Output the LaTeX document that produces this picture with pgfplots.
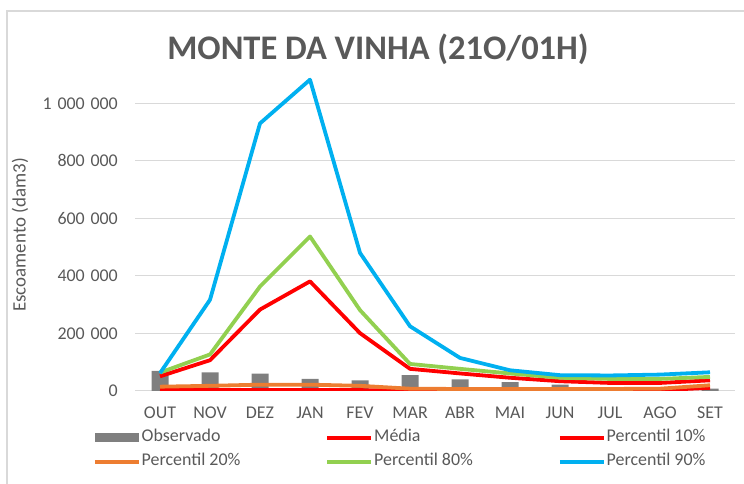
\documentclass[border=0pt]{standalone}
\usepackage{fontspec}
\setmainfont{Carlito}
\usepackage{pgfplots}
\pgfplotsset{compat=1.18}
\definecolor{txt}{HTML}{595959}
\definecolor{gridc}{HTML}{D9D9D9}
\definecolor{obs}{HTML}{7F7F7F}
\definecolor{cred}{HTML}{FF0000}
\definecolor{corange}{HTML}{ED7D31}
\definecolor{cgreen}{HTML}{92D050}
\definecolor{cblue}{HTML}{00B0F0}
\newcommand{\ksp}{\hspace{0.32em}}
\begin{document}
\begin{tikzpicture}[x=1bp,y=1bp]
\path[use as bounding box] (0,0) rectangle (744,484);
\draw[gridc, line width=1.5bp] (7,0) -- (7,473) -- (744,473);
\node[anchor=base, text=txt, inner sep=0pt] at (378,424) {\fontsize{34.6}{40}\selectfont\bfseries MONTE DA VINHA (21O/01H)};
\begin{axis}[
  at={(135bp,93bp)}, anchor=south west,
  scale only axis, width=600bp, height=316.5bp,
  xmin=-0.5, xmax=11.5, ymin=0, ymax=1100000,
  axis line style={draw=none},
  major tick length=0pt,
  scaled y ticks=false,
  xtick={0,...,11},
  xticklabels={OUT,NOV,DEZ,JAN,FEV,MAR,ABR,MAI,JUN,JUL,AGO,SET},
  ytick={0,200000,400000,600000,800000,1000000},
  yticklabels={0,200\ksp000,400\ksp000,600\ksp000,800\ksp000,1\ksp000\ksp000},
  /pgf/number format/assume math mode=true,
  xmajorgrids=false, ymajorgrids=true,
  major grid style={gridc, line width=1bp},
  ticklabel style={text=txt, font=\fontsize{18}{20}\selectfont},
  yticklabel style={anchor=east, inner sep=0pt, xshift=-17bp},
  xticklabel style={anchor=north, inner sep=0pt, yshift=-16bp},
  ylabel={Escoamento (dam3)},
  every axis y label/.style={at={(axis description cs:-0.1917,0.493)}, rotate=90, anchor=center, text=txt, font=\fontsize{19}{21}\selectfont},
  legend columns=3,
  legend cell align=left,
  legend style={at={(axis description cs:-0.07,-0.1864)}, anchor=west, draw=none, fill=none, inner sep=0pt,
    font=\fontsize{18}{20}\selectfont, text=txt,
    nodes={inner sep=1bp, text height=12bp, text depth=4bp},
    row sep=6bp,
    /tikz/every even column/.append style={column sep=0pt}},
  every axis plot/.append style={line width=3.8bp, line join=round},
]
\addplot[ybar, bar width=17bp, fill=obs, draw=none, line width=0pt,
  legend image code/.code={\fill[obs] (0bp,-4.5bp) rectangle (44bp,4.5bp);}]
  coordinates {(0,70000) (1,65000) (2,60000) (3,42000) (4,37000) (5,55000) (6,40000) (7,31000) (8,22000) (9,8000) (10,8000) (11,8000)};
\addlegendentry{\makebox[183bp][l]{Observado}}
\pgfplotsset{legend image code/.code={\draw[#1, line width=3.5bp] (0bp,0bp) -- (44bp,0bp);}}
\addplot[cred, mark=none] coordinates {(0,51000) (1,107000) (2,283000) (3,381000) (4,201000) (5,77000) (6,61000) (7,46000) (8,34000) (9,28000) (10,28000) (11,37000)};
\addlegendentry{\makebox[183bp][l]{Média}}
\addplot[cred, mark=none] coordinates {(0,4000) (1,3000) (2,3000) (3,3000) (4,3000) (5,2000) (6,2000) (7,2000) (8,2000) (9,2000) (10,3000) (11,11000)};
\addlegendentry{\makebox[183bp][l]{Percentil 10\%}}
\addplot[corange, mark=none] coordinates {(0,15000) (1,18000) (2,22000) (3,22000) (4,18000) (5,8000) (6,7000) (7,7000) (8,7000) (9,7000) (10,8000) (11,20000)};
\addlegendentry{\makebox[183bp][l]{Percentil 20\%}}
\addplot[cgreen, mark=none] coordinates {(0,64000) (1,127000) (2,363000) (3,537000) (4,281000) (5,94000) (6,77000) (7,61000) (8,46000) (9,42000) (10,42000) (11,49000)};
\addlegendentry{\makebox[183bp][l]{Percentil 80\%}}
\addplot[cblue, mark=none] coordinates {(0,62000) (1,317000) (2,930000) (3,1082000) (4,480000) (5,225000) (6,115000) (7,72000) (8,55000) (9,54000) (10,57000) (11,65000)};
\addlegendentry{\makebox[183bp][l]{Percentil 90\%}}
\end{axis}
\end{tikzpicture}
\end{document}
